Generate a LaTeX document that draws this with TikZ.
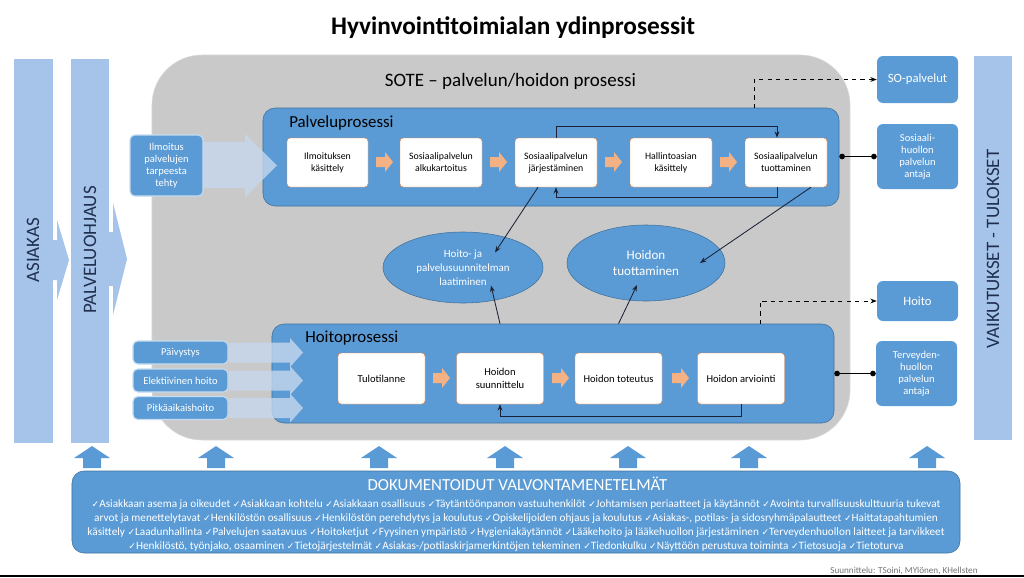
\documentclass[tikz,border=0pt]{standalone}
\usepackage{fontspec}
\setmainfont{Carlito}
\newfontfamily\symfont{DejaVu Sans}
\usepackage{xcolor}
\usepackage{tikz}
\usetikzlibrary{arrows.meta, shapes.geometric, positioning}

\definecolor{procblue}{HTML}{5B9BD5}
\definecolor{procedge}{HTML}{41719C}
\definecolor{colblue}{HTML}{A6C3E9}
\definecolor{sotegray}{HTML}{C9C9C9}
\definecolor{inputblue}{HTML}{C6D7EC}
\definecolor{stepedge}{HTML}{ED7D31}
\definecolor{salmon}{HTML}{F4B183}
\definecolor{linkdark}{HTML}{1A2238}
\definecolor{coltext}{HTML}{1F2F4F}
\newcommand{\chkmark}{{\symfont\fontsize{6.5}{10}\selectfont ✓}}

\begin{document}
\begin{tikzpicture}[
x=0.25mm, y=-0.25mm,
>={Stealth[length=1.6mm, width=1.2mm]},
panel/.style={rectangle, rounded corners=3mm, fill=procblue, draw=procedge, inner sep=0pt},
paneltitle/.style={anchor=west, inner sep=0pt, font=\fontsize{12}{14}\selectfont},
stepbox/.style={rectangle, rounded corners=0.8mm, fill=white, draw=stepedge, line width=0.3pt, align=center, inner sep=1pt, font=\fontsize{7}{8.5}\selectfont},
oval/.style={ellipse, fill=procblue, draw=procedge, text=white, align=center, inner sep=0pt},
outbox/.style={rectangle, rounded corners=1.5mm, fill=procblue, text=white, align=center, minimum width=20.25mm, inner sep=1pt},
inbox/.style={rectangle, rounded corners=1.2mm, fill=procblue, draw=white!65!procblue, line width=0.8pt, text=white, align=center, inner sep=1pt, font=\fontsize{7.5}{8.5}\selectfont},
colbar/.style={rectangle, fill=colblue, inner sep=0pt, minimum width=9.5mm, minimum height=96mm},
coltitle/.style={rotate=90, text=coltext, font=\fontsize{13.5}{15}\selectfont},
link/.style={draw=linkdark, line width=0.6pt, ->},
dashlink/.style={draw=black, dashed, line width=0.6pt, ->},
dotlink/.style={draw=black, line width=0.6pt, {Circle[length=1.4mm]}-{Circle[length=1.4mm]}}
]
\useasboundingbox (0,0) rectangle (1024,577);

\node[font=\fontsize{18}{21}\selectfont\bfseries] (title) at (513,28) {Hyvinvointitoimialan ydinprosessit};

% big gray area
\node[rectangle, rounded corners=12.5mm, fill=sotegray, draw=sotegray!70!white, minimum width=174.5mm, minimum height=96.25mm, inner sep=0pt] (sote) at (501,247.5) {};
\node[font=\fontsize{13.5}{15}\selectfont] (sotetitle) at (510.5,81) {SOTE -- palvelun/hoidon prosessi};

% side columns
\node[colbar, minimum width=9.75mm] (asiakas) at (33.5,251) {};
\node[colbar] (ohjaus) at (90,251) {};
\node[colbar] (vaikutus) at (993,248) {};
\fill[colblue] (53,240) -- (57,240) -- (57,220) -- (69,260) -- (57,300) -- (57,280) -- (53,280) -- cycle;
\fill[colblue] (109,232) -- (113,232) -- (113,203) -- (127,259) -- (113,315) -- (113,286) -- (109,286) -- cycle;
\node[coltitle] (asiakastxt) at (33,250) {ASIAKAS};
\node[coltitle] (ohjaustxt) at (90,250) {PALVELUOHJAUS};
\node[coltitle] (vaikutustxt) at (993,249) {VAIKUTUKSET - TULOKSET};

% palveluprosessi
\node[panel, minimum width=144mm, minimum height=24.5mm] (pp) at (551,157) {};
\node[paneltitle] (pptitle) at (289,123) {Palveluprosessi};
\node[stepbox, minimum width=20.25mm, minimum height=12.25mm] (p1) at (327.5,162.5) {Ilmoituksen\\käsittely};
\node[stepbox, minimum width=20.5mm, minimum height=12.25mm] (p2) at (441,162.5) {Sosiaalipalvelun\\alkukartoitus};
\node[stepbox, minimum width=20.5mm, minimum height=12.25mm] (p3) at (556,162.5) {Sosiaalipalvelun\\järjestäminen};
\node[stepbox, minimum width=20.5mm, minimum height=12.25mm] (p4) at (671,162.5) {Hallintoasian\\käsittely};
\node[stepbox, minimum width=20.5mm, minimum height=12.25mm] (p5) at (786,162.5) {Sosiaalipalvelun\\tuottaminen};
\foreach \a in {376,490,605,720}
  \fill[salmon] (\a,157) -- ++(9,0) -- ++(0,-5) -- ++(8,10) -- ++(-8,10) -- ++(0,-5) -- ++(-9,0) -- cycle;

% hoitoprosessi
\node[panel, minimum width=140.5mm, minimum height=24.75mm] (hp) at (553,373.5) {};
\node[paneltitle] (hptitle) at (305,338) {Hoitoprosessi};
\node[stepbox, minimum width=21.75mm, minimum height=12.75mm, font=\fontsize{7.5}{9}\selectfont] (h1) at (381.5,378.5) {Tulotilanne};
\node[stepbox, minimum width=21.75mm, minimum height=12.75mm, font=\fontsize{7.5}{9}\selectfont] (h2) at (500,378.5) {Hoidon\\suunnittelu};
\node[stepbox, minimum width=21.75mm, minimum height=12.75mm, font=\fontsize{7.5}{9}\selectfont] (h3) at (618.5,378.5) {Hoidon toteutus};
\node[stepbox, minimum width=21.75mm, minimum height=12.75mm, font=\fontsize{7.5}{9}\selectfont] (h4) at (741,378.5) {Hoidon arviointi};
\foreach \a in {433,552,672}
  \fill[salmon] (\a,373) -- ++(9,0) -- ++(0,-5) -- ++(8,10) -- ++(-8,10) -- ++(0,-5) -- ++(-9,0) -- cycle;

% ellipses
\node[oval, minimum width=40mm, minimum height=17.75mm, font=\fontsize{7.8}{10}\selectfont] (e1) at (463,267.5) {Hoito- ja\\palvelusuunnitelman\\laatiminen};
\node[oval, minimum width=39.5mm, minimum height=19mm, font=\fontsize{9.3}{11}\selectfont] (e2) at (646,263) {Hoidon\\tuottaminen};

% inputs
\node[inbox, minimum width=18.25mm, minimum height=15.25mm] (ilm) at (166.5,165.5) {Ilmoitus\\palvelujen\\tarpeesta\\tehty};
\node[inbox, minimum width=23.75mm, minimum height=5.75mm] (paiv) at (180.5,352.5) {Päivystys};
\node[inbox, minimum width=23.75mm, minimum height=5.75mm] (elek) at (180.5,380.5) {Elektiivinen hoito};
\node[inbox, minimum width=23.75mm, minimum height=5.75mm] (pitk) at (180.5,408) {Pitkäaikaishoito};
\fill[inputblue, opacity=0.8] (203,142) -- (245,142) -- (245,134) -- (277,165.5) -- (245,197) -- (245,188) -- (203,188) -- cycle;
\foreach \t in {352.5,380.5,408}
  \fill[inputblue, opacity=0.8] (229,\t-10) -- (290,\t-10) -- (290,\t-14.5) -- (303,\t) -- (290,\t+14.5) -- (290,\t+10) -- (229,\t+10) -- cycle;

% outcomes
\node[outbox, minimum height=11.75mm, font=\fontsize{9}{10}\selectfont] (so) at (917.5,79.5) {SO-palvelut};
\node[outbox, minimum height=16.25mm, font=\fontsize{7.5}{8.6}\selectfont] (sos) at (917.5,156.5) {Sosiaali-\\huollon\\palvelun\\antaja};
\node[outbox, minimum height=10mm, font=\fontsize{9}{10}\selectfont] (hoito) at (917.5,301) {Hoito};
\node[outbox, minimum height=16.25mm, font=\fontsize{7.5}{8.6}\selectfont] (ter) at (916.5,373.5) {Terveyden-\\huollon\\palvelun\\antaja};

% connectors
\draw[link] (p3.north) -- ++(0,-11) -| ([xshift=-2.25mm]p5.north);
\draw[link] ([xshift=-2.25mm]p5.south) -- ++(0,10) -| (p3.south);
\draw[link] (h4.south) -- ++(0,12) -| (h2.south);
\draw[link] ([xshift=-4.5mm]p3.south) -- ([xshift=8mm,yshift=3.75mm]e1.center);
\draw[link] ([xshift=6.25mm]p5.south) -- ([xshift=13.5mm]e2.center);
\draw[link] (h2.north |- hp.north) -- ([xshift=7mm,yshift=-4.5mm]e1.center);
\draw[link] (h3.north |- hp.north) -- ([xshift=-2.25mm,yshift=-5.5mm]e2.center);
\coordinate (pptop) at (754,108);
\coordinate (hptop) at (760,324);
\draw[dashlink] (pptop) |- (so.west);
\draw[dashlink] (hptop) |- (hoito.west);
\draw[dotlink] (pp.east |- sos.west) -- (sos.west);
\draw[dotlink] (hp.east |- ter.west) -- (ter.west);

% valvonta
\foreach \x in {92,216,379,505,628,749,927}
  \fill[procblue] (\x-9,468) -- (\x-9,458) -- (\x-18,458) -- (\x,446) -- (\x+18,458) -- (\x+9,458) -- (\x+9,468) -- cycle;
\node[panel, rounded corners=3mm, minimum width=222mm, minimum height=20.5mm] (doc) at (516,512) {};
\node[text=white, font=\fontsize{12}{13}\selectfont] (doctitle) at (517.5,484) {DOKUMENTOIDUT VALVONTAMENETELMÄT};
\node[text=white, align=center, inner sep=0pt, font=\fontsize{8}{10}\selectfont] (doctext) at (516,525.5) {%
\chkmark Asiakkaan asema ja oikeudet \chkmark Asiakkaan kohtelu \chkmark Asiakkaan osallisuus \chkmark Täytäntöönpanon vastuuhenkilöt \chkmark Johtamisen periaatteet ja käytännöt \chkmark Avointa turvallisuuskulttuuria tukevat\\
arvot ja menettelytavat \chkmark Henkilöstön osallisuus \chkmark Henkilöstön perehdytys ja koulutus \chkmark Opiskelijoiden ohjaus ja koulutus \chkmark Asiakas-, potilas- ja sidosryhmäpalautteet \chkmark Haittatapahtumien\\
käsittely \chkmark Laadunhallinta \chkmark Palvelujen saatavuus \chkmark Hoitoketjut \chkmark Fyysinen ympäristö \chkmark Hygieniakäytännöt \chkmark Lääkehoito ja lääkehuollon järjestäminen \chkmark Terveydenhuollon laitteet ja tarvikkeet\\
\chkmark Henkilöstö, työnjako, osaaminen \chkmark Tietojärjestelmät \chkmark Asiakas-/potilaskirjamerkintöjen tekeminen \chkmark Tiedonkulku \chkmark Näyttöön perustuva toiminta \chkmark Tietosuoja \chkmark Tietoturva};

\node[text=black!55, font=\fontsize{6.5}{7}\selectfont] (credit) at (904,571) {Suunnittelu: TSoini, MYlönen, KHellsten};
\fill[black] (0,575) rectangle (1024,577);

\end{tikzpicture}
\end{document}
